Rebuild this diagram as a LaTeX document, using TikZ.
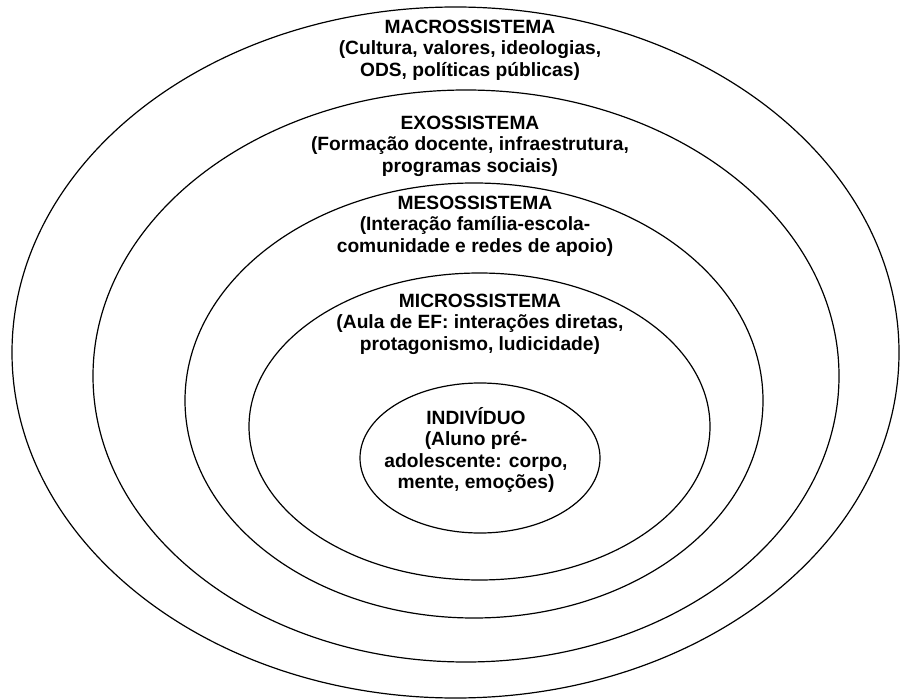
\documentclass[tikz,border=0pt]{standalone}
\usepackage{fontspec}
\setmainfont{Liberation Sans}

\begin{document}
\begin{tikzpicture}[x=1pt,y=-1pt,
  camada/.style={line width=1.2pt},
  rotulo/.style={align=center,inner sep=0pt,
    font=\bfseries\fontsize{19.2}{21.6}\selectfont}]
\useasboundingbox (0,0) rectangle (902,700);
\draw[camada] (455.5,352.5) ellipse (443.5 and 345.5);
\draw[camada] (466,376) ellipse (373 and 286);
\draw[camada] (474,400.5) ellipse (289 and 217.5);
\draw[camada] (479.5,426.5) ellipse (230.5 and 153.5);
\draw[camada] (480,458) ellipse (120 and 75);
\node[rotulo] (macro) at (470,50) {MACROSSISTEMA\\(Cultura, valores, ideologias,\\ODS, políticas públicas)};
\node[rotulo] (exo) at (470,146) {EXOSSISTEMA\\(Formação docente, infraestrutura,\\programas sociais)};
\node[rotulo] (meso) at (475,226) {MESOSSISTEMA\\(Interação família-escola-\\comunidade e redes de apoio)};
\node[rotulo] (micro) at (480,324) {MICROSSISTEMA\\(Aula de EF: interações diretas,\\protagonismo, ludicidade)};
\node[rotulo] (individuo) at (476,450) {INDIVÍDUO\\(Aluno pré-\\adolescente: corpo,\\mente, emoções)};
\end{tikzpicture}
\end{document}
